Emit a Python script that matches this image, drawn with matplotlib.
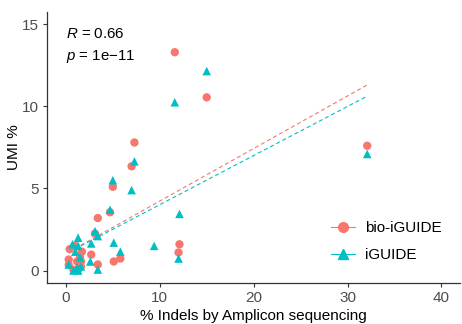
import numpy as np
import matplotlib
matplotlib.use("Agg")
import matplotlib.pyplot as plt
from matplotlib.lines import Line2D

plt.rcParams['font.family'] = ['Liberation Sans', 'DejaVu Sans']
plt.rcParams['mathtext.fontset'] = 'custom'
plt.rcParams['mathtext.it'] = 'Liberation Sans:italic'
plt.rcParams['mathtext.rm'] = 'Liberation Sans'

# bio-iGUIDE (circles)
bio_x = [11.6, 15.0, 7.3, 7.0, 5.0, 4.7, 3.4, 3.1, 32.1, 12.1, 12.0, 5.8, 5.1, 3.4, 2.7,
         0.4, 1.7, 0.3, 1.2, 1.0, 1.6, 0.8, 1.3, 0.3, 1.6, 1.5]
bio_y = [13.3, 10.55, 7.8, 6.35, 5.1, 3.55, 3.2, 2.25, 7.6, 1.6, 1.1, 0.73, 0.55, 0.37, 0.97,
         1.3, 1.15, 0.67, 0.55, 1.5, 0.55, 0.05, 0.05, 0.35, 0.25, 0.8]
# iGUIDE (triangles)
ig_x = [11.6, 15.0, 7.3, 7.0, 5.0, 4.7, 3.4, 3.1, 32.1, 12.1, 12.0, 9.4, 5.8, 5.1, 3.4, 2.7, 2.6,
        1.3, 0.7, 1.3, 1.0, 1.5, 0.3, 1.2, 1.6, 0.8, 1.3]
ig_y = [10.25, 12.15, 6.65, 4.9, 5.5, 3.7, 2.1, 2.4, 7.1, 3.45, 0.73, 1.5, 1.15, 1.7, 0.06, 1.65, 0.55,
        2.0, 1.6, 1.5, 1.15, 0.8, 0.37, 0.2, 0.25, 0.0, 0.0]

groups = ["bio-iGUIDE", "iGUIDE"]
colors = ["#F8766D", "#00BFC4"]
markers = ["o", "^"]
annot = ["$\\mathit{R}$ = 0.66", "$\\mathit{p}$ = 1e\u221211"]

fig = plt.figure(figsize=(4.62, 3.24), dpi=100)
ax = fig.add_axes([0.102, 0.127, 0.894, 0.836])

data = [(bio_x, bio_y), (ig_x, ig_y)]
for (xs, ys), c, m, g in zip(data, colors, markers, groups):
    xs = np.array(xs); ys = np.array(ys)
    ax.scatter(xs, ys, s=36 if m == "o" else 38, marker=m, color=c, edgecolors='none', zorder=3)
    k, b = np.polyfit(xs, ys, 1)
    xl = np.array([xs.min(), xs.max()])
    ax.plot(xl, k * xl + b, color=c, lw=0.8, linestyle=(0, (3.6, 2.6)), zorder=2)

ax.set_xlim(-2, 42)
ax.set_ylim(-0.75, 15.75)
ax.set_xticks([0, 10, 20, 30, 40])
ax.set_yticks([0, 5, 10, 15])
for s in ['top', 'right']:
    ax.spines[s].set_visible(False)
for s in ['left', 'bottom']:
    ax.spines[s].set_color('#333333')
    ax.spines[s].set_linewidth(0.9)
ax.tick_params(axis='both', direction='out', length=3, width=0.8, color='#333333',
               labelsize=11, labelcolor='#4d4d4d', pad=3)
ax.set_xlabel("% Indels by Amplicon sequencing", fontsize=11, labelpad=3)
ax.set_ylabel("UMI %", fontsize=11, labelpad=0.5)

ax.text(0.045, 0.918, annot[0], transform=ax.transAxes, fontsize=10.8, va='center', ha='left')
ax.text(0.045, 0.837, annot[1], transform=ax.transAxes, fontsize=10.8, va='center', ha='left')

handles = [Line2D([0], [0], color=c, marker=m, markersize=7, lw=0.8) for c, m in zip(colors, markers)]
leg = ax.legend(handles, groups, loc='center left', bbox_to_anchor=(0.654, 0.151), frameon=False,
                fontsize=11, handlelength=1.6, handletextpad=0.6, labelspacing=0.85)

fig.savefig("out.png", dpi=100)
